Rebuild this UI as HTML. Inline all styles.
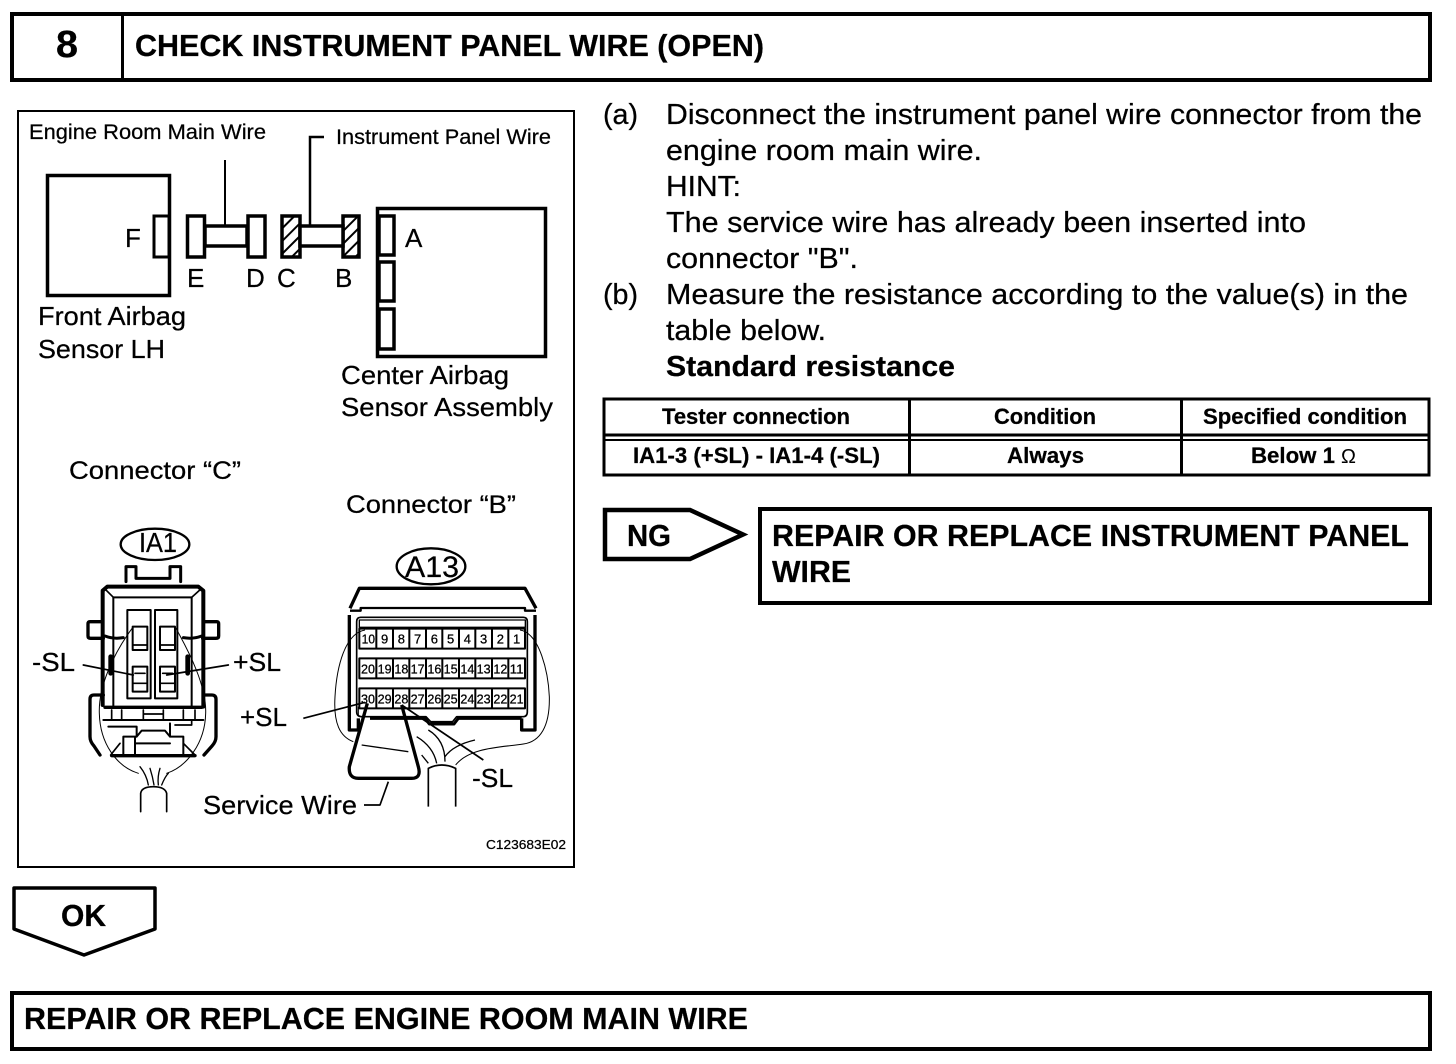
<!DOCTYPE html>
<html>
<head>
<meta charset="utf-8">
<style>
html,body{margin:0;padding:0;background:#fff;}
svg{display:block;}
text{font-family:"Liberation Sans",sans-serif;fill:#000;white-space:pre;stroke:#000;stroke-width:0.25px;}
.b{font-weight:bold;}
.h{font-size:31px;font-weight:bold;}
.t{font-size:22px;font-weight:bold;}
.n{font-size:39px;text-anchor:middle;stroke-width:0.8px;}
</style>
</head>
<body>
<svg width="1456" height="1064" viewBox="0 0 1456 1064" xmlns="http://www.w3.org/2000/svg">
<defs>
<pattern id="hatch" width="9" height="9" patternUnits="userSpaceOnUse" patternTransform="rotate(45)">
<rect width="9" height="9" fill="#fff"/><rect width="2" height="9" fill="#000"/>
</pattern>
</defs>
<rect width="1456" height="1064" fill="#fff"/>

<!-- header -->
<rect x="12" y="14" width="1418" height="66" fill="none" stroke="#000" stroke-width="4"/>
<rect x="121" y="14" width="3" height="66" fill="#000"/>
<text x="56" y="57" class="b" font-size="38" textLength="22" lengthAdjust="spacingAndGlyphs">8</text>
<text x="135" y="56" class="h" textLength="629" lengthAdjust="spacingAndGlyphs">CHECK INSTRUMENT PANEL WIRE (OPEN)</text>

<!-- frame -->
<rect x="18" y="111" width="556" height="756" fill="none" stroke="#000" stroke-width="2"/>

<!-- top schematic -->
<g fill="#fff" stroke="#000">
<rect x="47.500" y="175.500" width="122" height="120" stroke-width="3.500"/>
<rect x="154" y="216" width="15" height="41" stroke-width="3"/>
<rect x="187.500" y="216" width="17" height="41" stroke-width="3.500"/>
<rect x="248" y="216" width="17" height="41" stroke-width="3.500"/>
<rect x="205" y="226" width="42" height="20" stroke-width="3.500"/>
<rect x="282" y="216" width="18" height="41" stroke-width="3.500" fill="url(#hatch)"/>
<rect x="343" y="216" width="16" height="41" stroke-width="3.500" fill="url(#hatch)"/>
<rect x="300" y="226" width="43" height="20" stroke-width="3.500"/>
<rect x="377.500" y="208.500" width="168" height="148" stroke-width="3.500"/>
<rect x="379" y="216" width="15" height="39" stroke-width="3.500"/>
<rect x="379" y="262" width="15" height="39" stroke-width="3.500"/>
<rect x="379" y="309" width="15" height="40" stroke-width="3.500"/>
</g>
<path d="M225 160V225" fill="none" stroke="#000" stroke-width="2"/>
<path d="M310 225V137H324" fill="none" stroke="#000" stroke-width="2.500"/>

<g>
<text x="29" y="139" font-size="21" textLength="237" lengthAdjust="spacingAndGlyphs">Engine Room Main Wire</text>
<text x="336" y="144" font-size="21" textLength="215" lengthAdjust="spacingAndGlyphs">Instrument Panel Wire</text>
<text x="125" y="247" font-size="26">F</text>
<text x="187" y="287" font-size="26">E</text>
<text x="246" y="287" font-size="26">D</text>
<text x="277" y="287" font-size="26">C</text>
<text x="335" y="287" font-size="26">B</text>
<text x="405" y="247" font-size="26">A</text>
<text x="38" y="325" font-size="26" textLength="148" lengthAdjust="spacingAndGlyphs">Front Airbag</text>
<text x="38" y="358" font-size="26" textLength="127" lengthAdjust="spacingAndGlyphs">Sensor LH</text>
<text x="341" y="384" font-size="26" textLength="168" lengthAdjust="spacingAndGlyphs">Center Airbag</text>
<text x="341" y="416" font-size="26" textLength="212" lengthAdjust="spacingAndGlyphs">Sensor Assembly</text>
<text x="69" y="479" font-size="25" textLength="172" lengthAdjust="spacingAndGlyphs">Connector “C”</text>
<text x="346" y="513" font-size="25" textLength="170" lengthAdjust="spacingAndGlyphs">Connector “B”</text>
<text x="32" y="671" font-size="26" textLength="43" lengthAdjust="spacingAndGlyphs">-SL</text>
<text x="233" y="671" font-size="26" textLength="48" lengthAdjust="spacingAndGlyphs">+SL</text>
<text x="240" y="726" font-size="26" textLength="47" lengthAdjust="spacingAndGlyphs">+SL</text>
<text x="472" y="787" font-size="26" textLength="41" lengthAdjust="spacingAndGlyphs">-SL</text>
<text x="203" y="814" font-size="26" textLength="154" lengthAdjust="spacingAndGlyphs">Service Wire</text>
<text x="486" y="849" font-size="13" textLength="80" lengthAdjust="spacingAndGlyphs">C123683E02</text>
<text x="139" y="552" font-size="28" textLength="38" lengthAdjust="spacingAndGlyphs">IA1</text>
<text x="405" y="577" font-size="30" textLength="54" lengthAdjust="spacingAndGlyphs">A13</text>
</g>

<!-- IA1 connector (zoom coords) -->
<g transform="translate(20 510) scale(0.33333)" fill="none" stroke="#000" stroke-linejoin="round" stroke-linecap="round">
<ellipse cx="405" cy="103" rx="103" ry="47" stroke-width="7"/>
<path d="M318 215V170H348V205H450V170H482V215" stroke-width="9"/>
<path d="M248 585V242L262 230H535L550 242V590" stroke-width="12"/>
<path d="M280 590V262H515V590" stroke-width="6"/>
<path d="M254 236L280 262M544 236L515 262" stroke-width="5"/>
<path d="M248 335H210Q204 335 204 342V378Q204 385 212 385H250" stroke-width="10"/>
<path d="M550 335H590Q596 335 596 342V378Q596 385 588 385H548" stroke-width="10"/>
<path d="M255 378Q280 388 310 383M490 383Q520 388 545 378" stroke-width="9"/>
<path d="M272 440V490M503 440V490" stroke-width="14"/>
<rect x="322" y="300" width="70" height="265" stroke-width="6"/>
<rect x="405" y="300" width="67" height="265" stroke-width="6"/>
<rect x="338" y="350" width="44" height="70" stroke-width="6"/>
<rect x="420" y="350" width="45" height="70" stroke-width="6"/>
<rect x="338" y="470" width="44" height="75" stroke-width="6"/>
<rect x="420" y="470" width="45" height="75" stroke-width="6"/>
<path d="M340 405H380M422 405H463M340 520H380M422 520H463M345 490H375M428 490H458" stroke-width="5"/>
<path d="M190 465L340 495M625 465L440 495" stroke-width="5"/>
<path d="M340 350C280 430 235 530 238 610C240 700 290 770 355 790" stroke-width="3"/>
<path d="M465 350C510 430 560 530 557 610C555 700 500 770 440 790" stroke-width="3"/>
<path d="M250 555H222Q210 555 210 568V680Q210 695 222 708L240 735" stroke-width="10"/>
<path d="M550 555H575Q588 555 588 568V680Q588 695 576 708L552 735" stroke-width="10"/>
<path d="M255 592H545" stroke-width="10"/>
<path d="M250 630H550" stroke-width="6"/>
<path d="M275 600V630M305 600V630M370 600V630M430 600V630M490 600V630M525 600V630M370 612H430M465 645H515V630" stroke-width="5"/>
<path d="M265 650H350V680H310V735M450 640V680H490V735M350 680L365 662H435L450 680M345 680V735M450 700H345" stroke-width="6"/>
<path d="M275 737H525" stroke-width="10"/>
<path d="M272 735L300 700M525 735L490 700" stroke-width="5"/>
<path d="M362 905V850Q365 830 400 830Q435 830 440 850V905" stroke-width="5"/>
<path d="M385 825Q380 795 360 770M402 825Q398 800 390 775M415 825Q412 800 420 775M425 825Q435 800 445 790" stroke-width="4"/>
</g>

<!-- A13 connector (zoom coords) -->
<g transform="translate(290 540) scale(0.33333)" fill="none" stroke="#000" stroke-linejoin="round">
<ellipse cx="423" cy="79" rx="103" ry="54" stroke-width="7"/>
<path d="M180 205L208 145H705L738 205" stroke-width="10"/>
<path d="M180 212H212V204H705V212H738" stroke-width="7"/>
<path d="M178 225V570H205V535M735 225V570H695V535" stroke-width="10"/>
<path d="M200 245Q200 232 212 232H700Q712 232 712 245V515Q712 530 700 530H500L488 545H422L408 530H215Q200 530 200 515Z" stroke-width="5"/>
<path d="M240 535H405L418 552H492L505 535H695" stroke-width="9"/>
<rect x="208" y="240" width="498" height="22" stroke-width="4"/>
<rect x="208" y="266" width="497" height="60" stroke-width="6"/>
<rect x="208" y="355" width="497" height="60" stroke-width="6"/>
<rect x="208" y="445" width="497" height="60" stroke-width="6"/>
<path d="M259 266V326M309 266V326M358 266V326M408 266V326M457 266V326M507 266V326M556 266V326M606 266V326M655 266V326M259 355V415M309 355V415M358 355V415M408 355V415M457 355V415M507 355V415M556 355V415M606 355V415M655 355V415M259 445V505M309 445V505M358 445V505M408 445V505M457 445V505M507 445V505M556 445V505M606 445V505M655 445V505" stroke-width="6"/>
<path d="M225 270C165 280 140 380 135 470C130 550 150 590 190 605" stroke-width="3"/>
<path d="M690 270C750 280 775 400 778 470C780 560 750 605 700 612C640 622 540 620 497 675" stroke-width="3"/>
<path d="M215 615L355 635" stroke-width="4"/>
<path d="M380 590Q430 620 440 670M415 570Q465 600 465 665M555 600Q490 615 465 650M395 645L415 670" stroke-width="4"/>
<path d="M205 500V525M225 500V530" stroke-width="3"/>
<path d="M232 490L178 680Q175 715 205 715H365Q395 715 385 680L335 495" stroke-width="10"/>
<path d="M40 535L225 487" stroke-width="5"/>
<path d="M335 495L580 660" stroke-width="5"/>
<path d="M295 725L270 795H222" stroke-width="5"/>
<path d="M415 800V685Q455 665 497 685V800" stroke-width="5"/>
<g stroke="none" fill="#000">
<text class="n" x="235" y="311" textLength="40" lengthAdjust="spacingAndGlyphs">10</text>
<text class="n" x="284" y="311">9</text>
<text class="n" x="334" y="311">8</text>
<text class="n" x="383" y="311">7</text>
<text class="n" x="433" y="311">6</text>
<text class="n" x="482" y="311">5</text>
<text class="n" x="532" y="311">4</text>
<text class="n" x="581" y="311">3</text>
<text class="n" x="631" y="311">2</text>
<text class="n" x="680" y="311">1</text>
<text class="n" x="234" y="400" textLength="42" lengthAdjust="spacingAndGlyphs">20</text>
<text class="n" x="284" y="400" textLength="42" lengthAdjust="spacingAndGlyphs">19</text>
<text class="n" x="334" y="400" textLength="42" lengthAdjust="spacingAndGlyphs">18</text>
<text class="n" x="383" y="400" textLength="42" lengthAdjust="spacingAndGlyphs">17</text>
<text class="n" x="433" y="400" textLength="42" lengthAdjust="spacingAndGlyphs">16</text>
<text class="n" x="482" y="400" textLength="42" lengthAdjust="spacingAndGlyphs">15</text>
<text class="n" x="532" y="400" textLength="42" lengthAdjust="spacingAndGlyphs">14</text>
<text class="n" x="581" y="400" textLength="42" lengthAdjust="spacingAndGlyphs">13</text>
<text class="n" x="631" y="400" textLength="42" lengthAdjust="spacingAndGlyphs">12</text>
<text class="n" x="680" y="400" textLength="42" lengthAdjust="spacingAndGlyphs">11</text>
<text class="n" x="234" y="490" textLength="42" lengthAdjust="spacingAndGlyphs">30</text>
<text class="n" x="284" y="490" textLength="42" lengthAdjust="spacingAndGlyphs">29</text>
<text class="n" x="334" y="490" textLength="42" lengthAdjust="spacingAndGlyphs">28</text>
<text class="n" x="383" y="490" textLength="42" lengthAdjust="spacingAndGlyphs">27</text>
<text class="n" x="433" y="490" textLength="42" lengthAdjust="spacingAndGlyphs">26</text>
<text class="n" x="482" y="490" textLength="42" lengthAdjust="spacingAndGlyphs">25</text>
<text class="n" x="532" y="490" textLength="42" lengthAdjust="spacingAndGlyphs">24</text>
<text class="n" x="581" y="490" textLength="42" lengthAdjust="spacingAndGlyphs">23</text>
<text class="n" x="631" y="490" textLength="42" lengthAdjust="spacingAndGlyphs">22</text>
<text class="n" x="680" y="490" textLength="42" lengthAdjust="spacingAndGlyphs">21</text>
</g>
</g>

<!-- right text -->
<g>
<text x="603" y="124" font-size="29" textLength="35" lengthAdjust="spacingAndGlyphs">(a)</text>
<text x="666" y="124" font-size="29" textLength="756" lengthAdjust="spacingAndGlyphs">Disconnect the instrument panel wire connector from the</text>
<text x="666" y="160" font-size="29" textLength="316" lengthAdjust="spacingAndGlyphs">engine room main wire.</text>
<text x="666" y="196" font-size="29" textLength="75" lengthAdjust="spacingAndGlyphs">HINT:</text>
<text x="666" y="232" font-size="29" textLength="640" lengthAdjust="spacingAndGlyphs">The service wire has already been inserted into</text>
<text x="666" y="268" font-size="29" textLength="192" lengthAdjust="spacingAndGlyphs">connector "B".</text>
<text x="603" y="304" font-size="29" textLength="35" lengthAdjust="spacingAndGlyphs">(b)</text>
<text x="666" y="304" font-size="29" textLength="742" lengthAdjust="spacingAndGlyphs">Measure the resistance according to the value(s) in the</text>
<text x="666" y="340" font-size="29" textLength="160" lengthAdjust="spacingAndGlyphs">table below.</text>
<text x="666" y="376" font-size="29" class="b" textLength="289" lengthAdjust="spacingAndGlyphs">Standard resistance</text>
</g>

<!-- table -->
<g fill="none" stroke="#000" stroke-width="3">
<rect x="604" y="399" width="825" height="76"/>
<path d="M604 435H1429" stroke-width="3"/>
<path d="M604 440H1429" stroke-width="2"/>
<path d="M909.500 399V475M1181.500 399V475"/>
</g>
<text x="662" y="424" class="t" textLength="188" lengthAdjust="spacingAndGlyphs">Tester connection</text>
<text x="994" y="424" class="t" textLength="102" lengthAdjust="spacingAndGlyphs">Condition</text>
<text x="1203" y="424" class="t" textLength="204" lengthAdjust="spacingAndGlyphs">Specified condition</text>
<text x="633" y="463" class="t" textLength="247" lengthAdjust="spacingAndGlyphs">IA1-3 (+SL) - IA1-4 (-SL)</text>
<text x="1007" y="463" class="t" textLength="77" lengthAdjust="spacingAndGlyphs">Always</text>
<text x="1251" y="463" class="t" textLength="84" lengthAdjust="spacingAndGlyphs">Below 1</text>
<text x="1341" y="463" font-size="20" style="stroke-width:0">Ω</text>

<!-- NG -->
<path d="M605 510H690L743 534.500L690 559H605Z" fill="#fff" stroke="#000" stroke-width="4.500" stroke-linejoin="miter"/>
<text x="627" y="546" class="b" font-size="31" textLength="44" lengthAdjust="spacingAndGlyphs">NG</text>
<rect x="760" y="509" width="670" height="94" fill="#fff" stroke="#000" stroke-width="4"/>
<text x="772" y="546" class="h" textLength="637" lengthAdjust="spacingAndGlyphs">REPAIR OR REPLACE INSTRUMENT PANEL</text>
<text x="772" y="582" class="h" textLength="79" lengthAdjust="spacingAndGlyphs">WIRE</text>

<!-- OK -->
<path d="M14 888H155V929L84 955L14 929Z" fill="#fff" stroke="#000" stroke-width="3.500" stroke-linejoin="round"/>
<text x="61" y="926" class="b" font-size="31" textLength="45" lengthAdjust="spacingAndGlyphs">OK</text>

<!-- bottom -->
<rect x="12" y="993" width="1418" height="56" fill="#fff" stroke="#000" stroke-width="4"/>
<text x="24" y="1029" class="h" textLength="724" lengthAdjust="spacingAndGlyphs">REPAIR OR REPLACE ENGINE ROOM MAIN WIRE</text>
</svg>
</body>
</html>
